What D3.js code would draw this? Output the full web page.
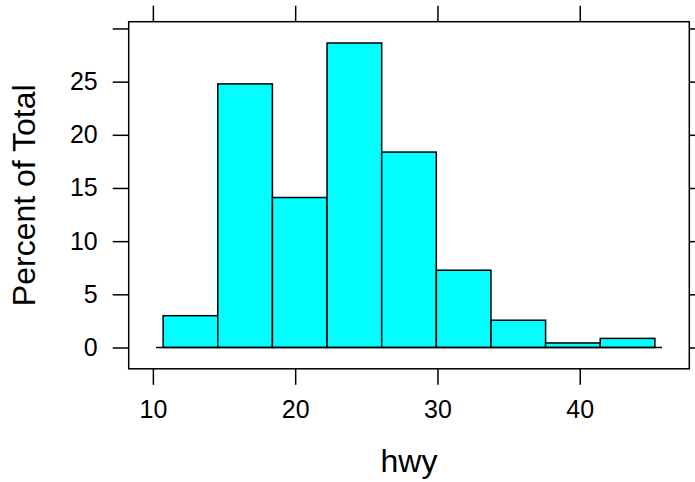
<!DOCTYPE html>
<html>
<head>
<meta charset="utf-8">
<script src="https://cdn.jsdelivr.net/npm/d3@7"></script>
<style>
  html, body { margin: 0; padding: 0; background: #ffffff; }
  svg { display: block; }
  text { font-family: "Liberation Sans", Arial, Helvetica, sans-serif; fill: #000; }
</style>
</head>
<body>
<div id="chart"></div>
<script>
// ---- data ----
const binBreaks = [10.72, 14.56, 18.40, 22.24, 26.08, 29.92, 33.76, 37.60, 41.44, 45.28];
const percentValues = [2.991, 24.786, 14.103, 28.632, 18.376, 7.265, 2.564, 0.427, 0.855];
const xTickValues = [10, 20, 30, 40];
const xTickLabels = ["10", "20", "30", "40"];
const yTickValues = [0, 5, 10, 15, 20, 25, 30];
const yTickLabels = ["0", "5", "10", "15", "20", "25", ""];
const xTitle = "hwy";
const yTitle = "Percent of Total";

// ---- layout ----
const W = 695, H = 482;
const panel = { left: 128.7, right: 689.3, top: 21.7, bottom: 368.8 };
const tickLen = 16, tickPad = 15;
const tickFont = 25, titleFont = 32;
const lw = 1.5;

const bins = percentValues.map((v, i) => ({ x0: binBreaks[i], x1: binBreaks[i + 1], pct: v }));

// lattice-style limits: extend by 7% of range
const bx0 = d3.min(binBreaks), bx1 = d3.max(binBreaks);
const xext = 0.07 * (bx1 - bx0);
const ymax = d3.max(percentValues);
const yext = 0.07 * ymax;

const x = d3.scaleLinear().domain([bx0 - xext, bx1 + xext]).range([panel.left, panel.right]);
const y = d3.scaleLinear().domain([0 - yext, ymax + yext]).range([panel.bottom, panel.top]);

const svg = d3.select("#chart").append("svg").attr("width", W).attr("height", H);

// bars
svg.append("g").selectAll("rect").data(bins).join("rect")
  .attr("x", d => x(d.x0))
  .attr("y", d => y(d.pct))
  .attr("width", d => x(d.x1) - x(d.x0))
  .attr("height", d => y(0) - y(d.pct))
  .attr("fill", "#00ffff")
  .attr("stroke", "#000")
  .attr("stroke-width", lw);

// baseline at 0
svg.append("line")
  .attr("x1", x(bx0 - 0.5)).attr("x2", x(bx1 + 0.5))
  .attr("y1", y(0)).attr("y2", y(0))
  .attr("stroke", "#000").attr("stroke-width", lw);

// axes
function styleAxis(g) {
  g.select(".domain").remove();
  g.selectAll(".tick line").attr("stroke", "#000").attr("stroke-width", lw);
  g.selectAll(".tick text").attr("font-size", tickFont).attr("font-family", '"Liberation Sans", Arial, sans-serif');
}

svg.append("g").attr("transform", `translate(0,${panel.bottom})`)
  .call(d3.axisBottom(x).tickValues(xTickValues).tickSize(tickLen).tickPadding(tickPad)
    .tickFormat((d, i) => xTickLabels[i]))
  .call(styleAxis);

svg.append("g").attr("transform", `translate(0,${panel.top})`)
  .call(d3.axisTop(x).tickValues(xTickValues).tickSize(tickLen).tickFormat(""))
  .call(styleAxis);

svg.append("g").attr("transform", `translate(${panel.left},0)`)
  .call(d3.axisLeft(y).tickValues(yTickValues).tickSize(tickLen).tickPadding(tickPad)
    .tickFormat((d, i) => yTickLabels[i]))
  .call(styleAxis);

svg.append("g").attr("transform", `translate(${panel.right},0)`)
  .call(d3.axisRight(y).tickValues(yTickValues).tickSize(tickLen).tickFormat(""))
  .call(styleAxis);

// panel border
svg.append("rect")
  .attr("x", panel.left).attr("y", panel.top)
  .attr("width", panel.right - panel.left).attr("height", panel.bottom - panel.top)
  .attr("fill", "none").attr("stroke", "#000").attr("stroke-width", lw);

// titles
svg.append("text")
  .attr("x", (panel.left + panel.right) / 2).attr("y", 472.3)
  .attr("text-anchor", "middle").attr("font-size", titleFont)
  .text(xTitle);

svg.append("text")
  .attr("transform", `translate(34.5,${(panel.top + panel.bottom) / 2}) rotate(-90)`)
  .attr("text-anchor", "middle").attr("font-size", titleFont)
  .text(yTitle);
</script>
</body>
</html>
